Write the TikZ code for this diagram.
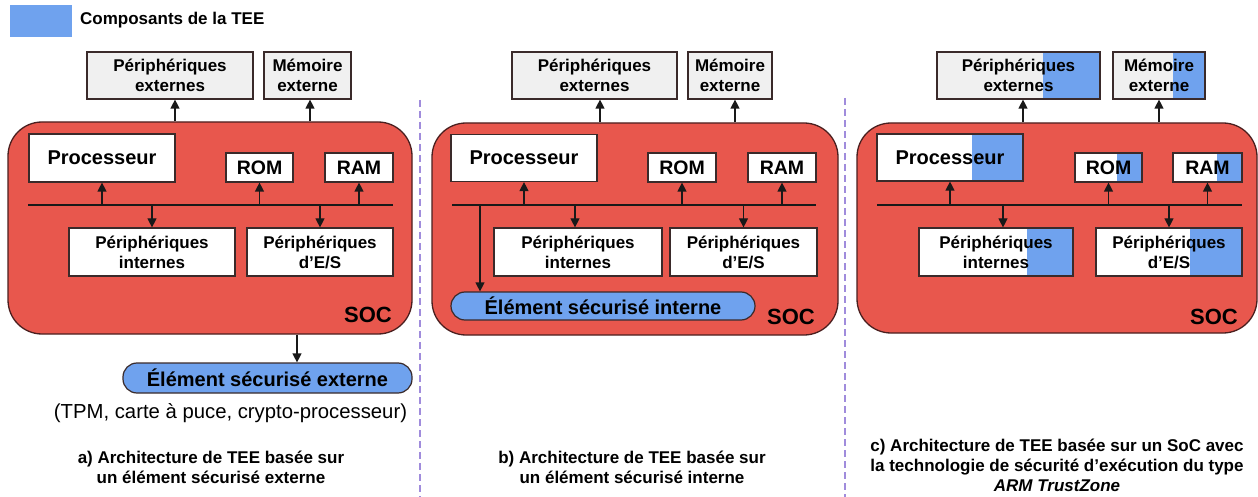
\documentclass[tikz,border=0pt]{standalone}
\usepackage{fontspec}
\setmainfont{Liberation Sans}
\usetikzlibrary{arrows.meta,calc}
\definecolor{socred}{HTML}{E8574D}
\definecolor{tee}{HTML}{6FA2EE}
\definecolor{extgray}{HTML}{F0F0F0}
\definecolor{boxline}{HTML}{3A2A2A}
\definecolor{socline}{HTML}{4A1F1F}
\definecolor{sepcol}{HTML}{A08CDC}
\tikzset{
 box/.style={draw=boxline, line width=1.2pt, fill=white, inner sep=0pt, align=center, font=\bfseries\fontsize{17}{20}\selectfont},
 ext/.style={box, fill=extgray},
 bigtxt/.style={font=\bfseries\fontsize{20}{24}\selectfont},
 memtxt/.style={font=\bfseries\fontsize{19.5}{23}\selectfont},
 socbox/.style={draw=socline, line width=1.3pt, fill=socred, rounded corners=34pt, inner sep=0pt},
 soclbl/.style={font=\bfseries\fontsize{22}{26}\selectfont, inner sep=0pt, anchor=east},
 secbox/.style={draw=boxline, line width=1.2pt, fill=tee, rounded corners=14pt, inner sep=0pt, font=\bfseries\fontsize{20}{24}\selectfont},
 arr/.style={-{Triangle[width=9pt,length=9pt]}, line width=1.2pt, draw=black!90},
 busline/.style={line width=1.3pt, draw=black!90},
 sepline/.style={draw=sepcol, line width=1.5pt, dash pattern=on 7pt off 4pt},
 captxt/.style={font=\bfseries\fontsize{17}{20}\selectfont, align=center, inner sep=0pt},
 teepart/.style={path picture={\fill[tee] ([xshift=-#1]path picture bounding box.north east) rectangle (path picture bounding box.south east);}},
}
\begin{document}
\begin{tikzpicture}[x=1pt,y=-1pt]
\useasboundingbox (0,0) rectangle (1258,497);

% legend
\node[fill=tee, minimum width=62pt, minimum height=32pt, inner sep=0pt] (leg) at (41,21) {};
\node[font=\bfseries\fontsize{17}{20}\selectfont, anchor=west, inner sep=0pt] (legtxt) at (80,20) {Composants de la TEE};

% separators
\coordinate (s1t) at (420,100); \coordinate (s1b) at (420,497);
\coordinate (s2t) at (845,98); \coordinate (s2b) at (845,497);
\draw[sepline] (s1t) -- (s1b);
\draw[sepline] (s2t) -- (s2b);

% ================= panel a =================
\node[ext, minimum width=166pt, minimum height=47pt] (a-pe) at (170,75.5) {Périphériques\\externes};
\node[ext, minimum width=87pt, minimum height=47pt] (a-me) at (307.5,75.5) {Mémoire\\externe};
\node[socbox, minimum width=404pt, minimum height=212pt] (a-soc) at (210,228) {};
\node[box, bigtxt, minimum width=146pt, minimum height=48pt] (a-proc) at (102,158) {Processeur};
\node[box, memtxt, minimum width=67pt, minimum height=29pt] (a-rom) at (259.5,167.5) {ROM};
\node[box, memtxt, minimum width=68pt, minimum height=29pt] (a-ram) at (359,167.5) {RAM};
\node[box, minimum width=166pt, minimum height=48pt] (a-pi) at (152,252) {Périphériques\\internes};
\node[box, minimum width=146pt, minimum height=48pt] (a-pes) at (320,252) {Périphériques\\d’E/S};
\node[soclbl] (a-lbl) at (392,315) {SOC};
\coordinate (a-busL) at (28,205); \coordinate (a-busR) at (393,205);
\draw[busline] (a-busL) -- (a-busR);
\draw[arr] (a-proc.south |- a-busL) -- (a-proc.south);
\draw[arr] (a-rom.south |- a-busL) -- (a-rom.south);
\draw[arr] (a-ram.south |- a-busL) -- (a-ram.south);
\draw[arr] (a-pi.north |- a-busL) -- (a-pi.north);
\draw[arr] (a-pes.north |- a-busL) -- (a-pes.north);
\draw[arr] ([xshift=5pt]a-pe.south |- a-soc.north) -- ([xshift=5pt]a-pe.south);
\draw[arr] ([xshift=2.5pt]a-me.south |- a-soc.north) -- ([xshift=2.5pt]a-me.south);
\node[secbox, minimum width=289pt, minimum height=30pt] (a-ese) at (267.5,378) {Élément sécurisé externe};
\draw[arr] ([xshift=29.5pt]a-ese.north |- a-soc.south) -- ([xshift=29.5pt]a-ese.north);
\node[font=\fontsize{20.3}{24}\selectfont, inner sep=0pt] (a-tpm) at (230.5,413) {(TPM, carte à puce, crypto-processeur)};
\node[captxt] (a-cap) at (211,467) {a) Architecture de TEE basée sur\\un élément sécurisé externe};

% ================= panel b =================
\node[ext, minimum width=165pt, minimum height=47pt] (b-pe) at (594.5,75.5) {Périphériques\\externes};
\node[ext, minimum width=84pt, minimum height=47pt] (b-me) at (730,75.5) {Mémoire\\externe};
\node[socbox, minimum width=406pt, minimum height=212pt] (b-soc) at (635,229) {};
\node[box, bigtxt, minimum width=146pt, minimum height=47pt] (b-proc) at (524,158) {Processeur};
\node[box, memtxt, minimum width=68pt, minimum height=29pt] (b-rom) at (682,167.5) {ROM};
\node[box, memtxt, minimum width=68pt, minimum height=29pt] (b-ram) at (782,167.5) {RAM};
\node[box, minimum width=168pt, minimum height=48pt] (b-pi) at (578,252) {Périphériques\\internes};
\node[box, minimum width=147pt, minimum height=48pt] (b-pes) at (743.5,252) {Périphériques\\d’E/S};
\node[secbox, minimum width=304pt, minimum height=28pt] (b-ese) at (603,306) {Élément sécurisé interne};
\node[soclbl] (b-lbl) at (815,317) {SOC};
\coordinate (b-busL) at (452,205); \coordinate (b-busR) at (816,205);
\coordinate (b-tap) at (480,205);
\draw[busline] (b-busL) -- (b-busR);
\draw[arr] (b-proc.south |- b-busL) -- (b-proc.south);
\draw[arr] (b-rom.south |- b-busL) -- (b-rom.south);
\draw[arr] (b-ram.south |- b-busL) -- (b-ram.south);
\draw[arr] ([xshift=-3pt]b-pi.north |- b-busL) -- ([xshift=-3pt]b-pi.north);
\draw[arr] (b-pes.north |- b-busL) -- (b-pes.north);
\draw[arr] (b-tap) -- (b-tap |- b-ese.north);
\draw[arr] ([xshift=5.5pt]b-pe.south |- b-soc.north) -- ([xshift=5.5pt]b-pe.south);
\draw[arr] ([xshift=5pt]b-me.south |- b-soc.north) -- ([xshift=5pt]b-me.south);
\node[captxt] (b-cap) at (632,467) {b) Architecture de TEE basée sur\\un élément sécurisé interne};

% ================= panel c =================
\node[ext, teepart=57pt, minimum width=163pt, minimum height=47pt] (c-pe) at (1018.5,75.5) {Périphériques\\externes};
\node[ext, teepart=32pt, minimum width=92pt, minimum height=47pt] (c-me) at (1159,75.5) {Mémoire\\externe};
\node[socbox, minimum width=400pt, minimum height=210pt] (c-soc) at (1057,228) {};
\node[box, bigtxt, teepart=51pt, minimum width=146pt, minimum height=47pt] (c-proc) at (950,157.5) {Processeur};
\node[box, memtxt, teepart=25pt, minimum width=67pt, minimum height=29pt] (c-rom) at (1108.5,167.5) {ROM};
\node[box, memtxt, teepart=25pt, minimum width=69pt, minimum height=29pt] (c-ram) at (1207.5,167.5) {RAM};
\node[box, teepart=46pt, minimum width=154pt, minimum height=48pt] (c-pi) at (996,252) {Périphériques\\internes};
\node[box, teepart=52pt, minimum width=146pt, minimum height=48pt] (c-pes) at (1169,252) {Périphériques\\d’E/S};
\node[soclbl] (c-lbl) at (1238,317) {SOC};
\coordinate (c-busL) at (877,205); \coordinate (c-busR) at (1242,205);
\draw[busline] (c-busL) -- (c-busR);
\draw[arr] (c-proc.south |- c-busL) -- (c-proc.south);
\draw[arr] (c-rom.south |- c-busL) -- (c-rom.south);
\draw[arr] (c-ram.south |- c-busL) -- (c-ram.south);
\draw[arr] ([xshift=7pt]c-pi.north |- c-busL) -- ([xshift=7pt]c-pi.north);
\draw[arr] (c-pes.north |- c-busL) -- (c-pes.north);
\draw[arr] ([xshift=4.5pt]c-pe.south |- c-soc.north) -- ([xshift=4.5pt]c-pe.south);
\draw[arr] (c-me.south |- c-soc.north) -- (c-me.south);
\node[captxt] (c-cap) at (1057,465) {c) Architecture de TEE basée sur un SoC avec\\la technologie de sécurité d’exécution du type\\\textit{ARM TrustZone}};
\end{tikzpicture}
\end{document}
